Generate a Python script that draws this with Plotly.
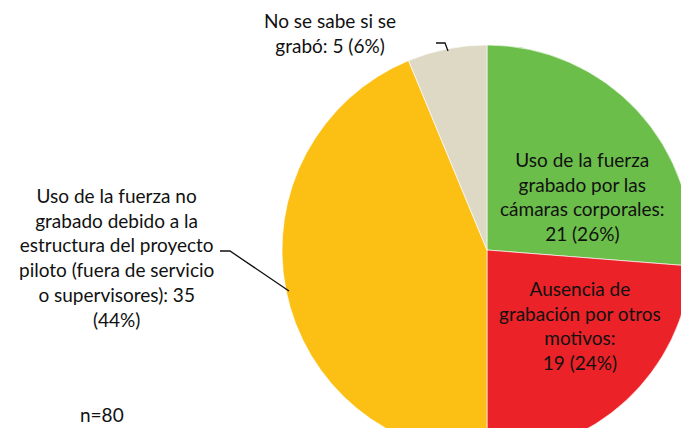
import plotly.graph_objects as go

# ---- data ----
categories = [
    "Uso de la fuerza grabado por las cámaras corporales",
    "Ausencia de grabación por otros motivos",
    "Uso de la fuerza no grabado debido a la estructura del proyecto piloto (fuera de servicio o supervisores)",
    "No se sabe si se grabó",
]
values = [21, 19, 35, 5]
label_templates = [
    "Uso de la fuerza<br>grabado por las<br>cámaras corporales:<br>{v} ({p}%)",
    "Ausencia de<br>grabación por otros<br>motivos:<br>{v} ({p}%)",
    "Uso de la fuerza no<br>grabado debido a la<br>estructura del proyecto<br>piloto (fuera de servicio<br>o supervisores): {v}<br>({p}%)",
    "No se sabe si se<br>grabó: {v} ({p}%)",
]
colors = ["#6BBE4A", "#EB2228", "#FCBF13", "#DED9C4"]
n_note = "n=" + str(sum(values))

# ---- layout (pixel geometry) ----
W, H = 700, 460
cx, cy, r = 487, 250, 205
label_pos = [(582, 196), (580, 325), (116, 257), (330, 33)]
FONT = "Lato, 'Open Sans', sans-serif"
FS = 19

total = sum(values)
pcts = [round(v * 100 / total) for v in values]

fig = go.Figure()
fig.add_trace(go.Pie(
    labels=categories, values=values, sort=False, direction="clockwise",
    rotation=0, textinfo="none", hoverinfo="label+value+percent",
    marker=dict(colors=colors, line=dict(color="rgba(255,255,255,0.8)", width=0.8)),
    domain=dict(x=[(cx - r) / W, (cx + r) / W], y=[(H - cy - r) / H, (H - cy + r) / H]),
    showlegend=False,
))

annotations = []
for tpl, v, p, (x, y) in zip(label_templates, values, pcts, label_pos):
    annotations.append(dict(
        text=tpl.format(v=v, p=p), x=x, y=y, xref="x", yref="y",
        showarrow=False, xanchor="center", yanchor="middle", align="center",
        font=dict(family=FONT, size=FS, color="#111111"),
    ))
annotations.append(dict(
    text=n_note, x=102, y=414, xref="x", yref="y", showarrow=False,
    xanchor="center", yanchor="middle",
    font=dict(family=FONT, size=FS, color="#111111"),
))

shapes = [
    dict(type="path", path="M 220 251 L 230 251 L 289 291", xref="x", yref="y",
         line=dict(color="#111", width=1.3)),
    dict(type="path", path="M 436 43 L 445 43 L 448 51", xref="x", yref="y",
         line=dict(color="#111", width=1.3)),
]

fig.update_layout(
    width=W, height=H, margin=dict(l=0, r=0, t=0, b=0),
    paper_bgcolor="white", plot_bgcolor="rgba(0,0,0,0)",
    xaxis=dict(range=[0, W], visible=False, domain=[0, 1], fixedrange=True),
    yaxis=dict(range=[H, 0], visible=False, domain=[0, 1], fixedrange=True),
    annotations=annotations, shapes=shapes,
)

fig.write_html(
    "out.html",
    config={"displayModeBar": False},
    post_script="document.body.style.margin='0';document.body.style.overflow='hidden';",
)
